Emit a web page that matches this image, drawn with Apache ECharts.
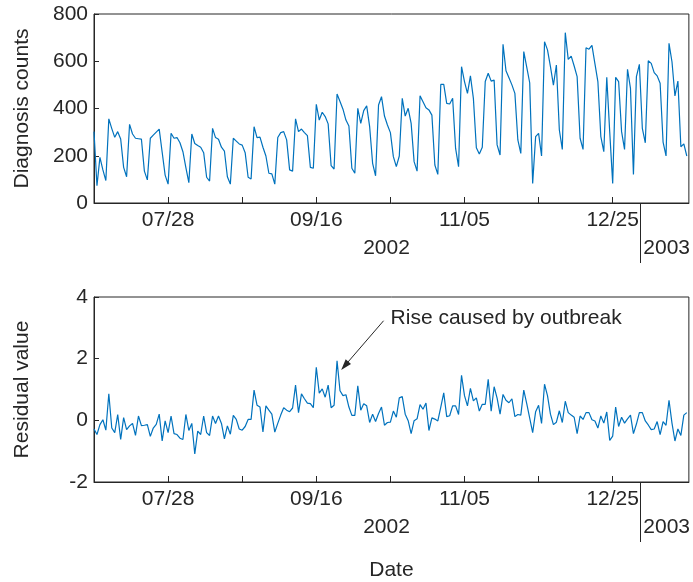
<!DOCTYPE html>
<html>
<head>
<meta charset="utf-8">
<script src="https://cdn.jsdelivr.net/npm/echarts@6/dist/echarts.min.js"></script>
<style>
  html, body { margin: 0; padding: 0; background: #fff; }
  #chart { width: 693px; height: 582px; }
</style>
</head>
<body>
<div id="chart"></div>
<script>
// daily values, day 0 = 2002-07-03
var diagnosisCounts = [
  302, 73, 193, 140, 95, 356, 315, 278, 302, 271, 151, 111, 333, 292, 274, 272, 270, 135, 98, 274,
  287, 300, 313, 215, 118, 80, 295, 274, 277, 255, 217, 150, 86, 292, 252, 243, 236, 213, 109, 93,
  316, 277, 270, 236, 220, 111, 80, 274, 262, 250, 245, 213, 109, 102, 323, 277, 279, 236, 199, 126,
  123, 80, 277, 298, 302, 267, 140, 135, 356, 302, 313, 298, 285, 151, 147, 418, 351, 384, 366, 335,
  158, 144, 461, 430, 397, 351, 326, 147, 126, 401, 337, 391, 411, 323, 168, 115, 415, 450, 368, 330,
  298, 196, 154, 199, 443, 368, 401, 337, 175, 135, 454, 429, 403, 394, 372, 161, 121, 502, 502, 422,
  419, 443, 231, 154, 577, 514, 464, 538, 443, 234, 207, 236, 514, 549, 516, 520, 246, 203, 672, 560,
  530, 500, 464, 267, 210, 641, 575, 509, 83, 281, 295, 199, 683, 648, 577, 499, 584, 309, 227, 721,
  608, 622, 580, 535, 274, 227, 657, 651, 667, 590, 514, 281, 217, 532, 300, 83, 532, 514, 302, 227,
  566, 485, 121, 535, 587, 316, 255, 602, 591, 552, 538, 507, 258, 199, 676, 598, 453, 516, 238, 250,
  199
];
var residualValues = [
  -0.28, -0.46, -0.14, 0.02, -0.32, 0.86, -0.25, -0.4, 0.19, -0.62, 0.09, -0.3, -0.18, -0.1, -0.49, 0.14, -0.17, -0.16, -0.14, -0.52,
  -0.25, -0.13, 0.2, -0.67, -0.02, -0.4, 0.14, -0.43, -0.46, -0.58, -0.62, 0.19, -0.33, -0.1, -1.09, -0.35, -0.46, 0.14, -0.4, -0.49,
  0.14, -0.1, 0.14, -0.1, -0.6, -0.18, -0.45, 0.16, 0.03, -0.28, -0.32, -0.2, 0.03, 0.03, 0.98, 0.49, 0.43, -0.38, 0.47, 0.33,
  0.2, -0.38, -0.1, 0.17, 0.41, 0.33, 0.28, 0.4, 1.14, 0.25, 0.86, 0.7, 0.56, 0.54, 0.41, 1.72, 0.88, 1.02, 0.75, 1.14,
  0.41, 0.49, 1.93, 0.96, 0.8, 0.83, 0.43, 0.16, 0.16, 1.12, 0.33, 0.54, 0.47, -0.07, 0.2, -0.04, 0.22, 0.43, -0.16, -0.07,
  -0.06, 0.3, 0.1, 0.73, 0.77, 0.2, -0.01, -0.43, -0.01, 0.05, 0.51, 0.36, 0.56, -0.33, 0.08, 0.04, -0.02, 0.43, 0.89, 0.12,
  0.15, 0.47, 0.47, 0.19, 1.46, 0.8, 0.47, 1.04, 0.63, 0.73, 0.3, 0.52, 0.52, 1.33, 0.3, 1.09, 0.72, 0.2, 0.84, 0.65,
  0.57, 0.7, 0.12, 0.19, 0.17, 0.98, 0.54, 0.07, -0.4, 0.28, 0.49, -0.1, 1.17, 0.8, 0.2, -0.14, -0.06, 0.31, -0.07, 0.62,
  0.25, 0.17, 0.1, -0.43, 0.14, 0.03, 0.25, 0.25, 0.02, -0.02, -0.25, 0.14, -0.09, 0.27, -0.65, -0.51, 0.43, -0.2, 0.1, -0.09,
  0.05, 0.17, -0.43, -0.12, 0.25, 0.25, -0.02, -0.15, -0.3, -0.28, -0.04, -0.46, -0.04, -0.16, 0.65, -0.09, -0.67, -0.28, -0.49, 0.17,
  0.25
];

// x ticks, in days from 2002-07-03
var dateTickDays = [25, 75, 125, 175];
var dateTickLabels = ['07/28', '09/16', '11/05', '12/25'];
var minorTickDays = [25, 50, 75, 100, 125, 150, 175];
var yearLabelDays = [98.7, 193.2];
var yearLabels = ['2002', '2003'];
var yearBreakDay = [184.3];

// annotation arrow (data coords of the residual panel)
var arrowFrom = [97.7, 3.23];
var arrowTo = [84.6, 1.77];

var FONT = '"Liberation Sans", Arial, Helvetica, sans-serif';
var AX = '#262626';
var BLUE = '#0072BD';
var FS = 21;
var DAY_MAX = 200.7;

var days = diagnosisCounts.map(function (v, i) { return i; });

function dateAxis(grid) {
  return {
    type: 'value', gridIndex: grid, min: 0, max: DAY_MAX, position: 'bottom',
    axisLine: { show: true, onZero: false, lineStyle: { color: AX, width: 1 } },
    axisTick: { show: true, inside: true, length: 6, customValues: minorTickDays, lineStyle: { color: AX } },
    axisLabel: {
      show: true, customValues: dateTickDays, margin: 7, color: AX, fontSize: FS, fontFamily: FONT,
      formatter: function (v) {
        var k = dateTickDays.indexOf(Math.round(v));
        return k < 0 ? '' : dateTickLabels[k];
      }
    },
    splitLine: { show: false }
  };
}

function yearAxis(grid, name) {
  return {
    type: 'value', gridIndex: grid, min: 0, max: DAY_MAX, position: 'bottom',
    name: name || '', nameLocation: 'middle', nameGap: 78,
    nameTextStyle: { color: AX, fontSize: FS, fontFamily: FONT },
    axisLine: { show: false, onZero: false },
    axisTick: { show: true, inside: false, length: 60, customValues: yearBreakDay, lineStyle: { color: AX } },
    axisLabel: {
      show: true, customValues: yearLabelDays, margin: 35, color: AX, fontSize: FS, fontFamily: FONT,
      formatter: function (v) {
        var k = yearLabelDays.indexOf(v);
        return k < 0 ? '' : yearLabels[k];
      }
    },
    splitLine: { show: false }
  };
}

function valueAxis(grid, name, min, max, step) {
  return {
    type: 'value', gridIndex: grid, min: min, max: max, interval: step,
    name: name, nameLocation: 'middle', nameGap: 61,
    nameTextStyle: { color: AX, fontSize: FS, fontFamily: FONT },
    axisLine: { show: true, onZero: false, lineStyle: { color: AX, width: 1 } },
    axisTick: { show: true, inside: true, length: 5, lineStyle: { color: AX } },
    axisLabel: { margin: 6, color: AX, fontSize: FS, fontFamily: FONT },
    splitLine: { show: false }
  };
}

var chart = echarts.init(document.getElementById('chart'), null, { renderer: 'canvas' });

chart.setOption({
  animation: false,
  backgroundColor: '#fff',
  textStyle: { fontFamily: FONT },
  grid: [
    { left: 94, top: 14, width: 598, height: 189, show: true, borderColor: AX, borderWidth: 1, backgroundColor: 'transparent' },
    { left: 94, top: 297, width: 598, height: 190, show: true, borderColor: AX, borderWidth: 1, backgroundColor: 'transparent' }
  ],
  xAxis: [dateAxis(0), yearAxis(0, ''), dateAxis(1), yearAxis(1, 'Date')],
  yAxis: [
    valueAxis(0, 'Diagnosis counts', 0, 800, 200),
    valueAxis(1, 'Residual value', -2, 4, 2)
  ],
  series: [
    {
      type: 'line', xAxisIndex: 0, yAxisIndex: 0,
      data: days.map(function (d, i) { return [d, diagnosisCounts[i]]; }),
      showSymbol: false, lineStyle: { color: BLUE, width: 1.2 }, itemStyle: { color: BLUE }
    },
    {
      type: 'line', xAxisIndex: 2, yAxisIndex: 1,
      data: days.map(function (d, i) { return [d, residualValues[i]]; }),
      showSymbol: false, lineStyle: { color: BLUE, width: 1.2 }, itemStyle: { color: BLUE },
      markLine: {
        silent: true, animation: false,
        symbol: ['none', 'triangle'], symbolSize: [6, 10],
        lineStyle: { color: AX, width: 1, type: 'solid' },
        itemStyle: { color: AX },
        label: { show: false },
        emphasis: { disabled: true },
        data: [[
          { coord: arrowFrom, lineStyle: { color: AX }, itemStyle: { color: AX } },
          { coord: arrowTo, symbol: 'triangle', symbolSize: [7, 11], itemStyle: { color: AX } }
        ]]
      },
      markPoint: {
        silent: true, symbol: 'circle', symbolSize: 0,
        data: [{ coord: arrowFrom }],
        label: {
          show: true, position: 'right', distance: 7, offset: [0, -3],
          formatter: 'Rise caused by outbreak',
          color: AX, fontSize: FS, fontFamily: FONT
        }
      }
    }
  ]
});
</script>
</body>
</html>
